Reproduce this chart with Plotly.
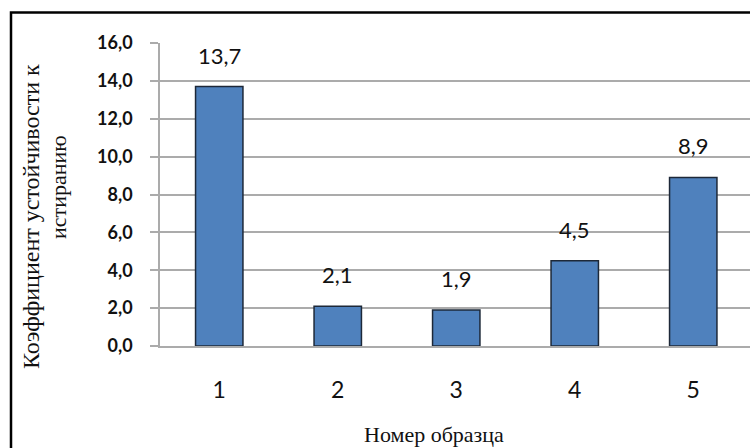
import plotly.graph_objects as go

# Abrasion-resistance coefficient per sample
samples = ["1", "2", "3", "4", "5"]
coefficients = [13.7, 2.1, 1.9, 4.5, 8.9]
y_ticks = [0, 2, 4, 6, 8, 10, 12, 14, 16]

W, H = 750, 448
L, R, T, B = 160, 0, 43, 102
plot_w = W - L - R
plot_h = H - T - B

BAR_COLOR = "#4F81BD"
GRID = "#ababab"
SANS = "Lato"
SERIF = "Liberation Serif"


def fmt(v):
    return f"{v:.1f}".replace(".", ",")


fig = go.Figure()
fig.add_trace(go.Bar(
    x=samples,
    y=coefficients,
    width=0.4,
    marker=dict(color=BAR_COLOR, line=dict(color="#1d2838", width=1.5)),
    hoverinfo="skip",
))

# value labels above each bar (category index as x position)
for i, v in enumerate(coefficients):
    fig.add_annotation(
        x=i, y=v, text=fmt(v), showarrow=False,
        xanchor="center", yanchor="bottom", yshift=16,
        font=dict(family=SANS, size=22, color="#111111"),
    )

# y-axis title, two lines
fig.add_annotation(
    xref="paper", yref="paper",
    x=(31 - L) / plot_w, y=(T + plot_h - 217) / plot_h,
    xanchor="center", yanchor="middle",
    text="Коэффициент устойчивости к", textangle=-90, showarrow=False,
    font=dict(family=SERIF, size=24, color="#111111"),
)
fig.add_annotation(
    xref="paper", yref="paper",
    x=(58 - L) / plot_w, y=(T + plot_h - 187) / plot_h,
    xanchor="center", yanchor="middle",
    text="истиранию", textangle=-90, showarrow=False,
    font=dict(family=SERIF, size=22, color="#111111"),
)

# x-axis title
fig.add_annotation(
    xref="paper", yref="paper",
    x=(434 - L) / plot_w, y=(T + plot_h - 434) / plot_h,
    xanchor="center", yanchor="middle",
    text="Номер образца", showarrow=False,
    font=dict(family=SERIF, size=22, color="#111111"),
)

# outer chart frame
fig.add_shape(
    type="rect", xref="paper", yref="paper",
    x0=(11 - L) / plot_w, x1=1.05,
    y0=-0.5, y1=(T + plot_h - 12.5) / plot_h,
    line=dict(color="black", width=2.5), fillcolor="rgba(0,0,0,0)",
    layer="above",
)

fig.update_layout(
    width=W, height=H,
    margin=dict(l=L, r=R, t=T, b=B, pad=0),
    paper_bgcolor="white", plot_bgcolor="white",
    showlegend=False,
    separators=", ",
    xaxis=dict(
        type="category", range=[-0.5, -0.5 + plot_w / 118.5],
        showgrid=False, showline=True, linecolor=GRID, linewidth=1.5,
        ticks="", ticklabelstandoff=23,
        tickfont=dict(family=SANS, size=23, color="#111111"),
    ),
    yaxis=dict(
        range=[0, 16], tickvals=y_ticks, tickformat=".1f",
        showgrid=True, gridcolor=GRID, gridwidth=1.5,
        showline=True, linecolor=GRID, linewidth=1.5,
        ticks="outside", ticklen=8, tickcolor=GRID, tickwidth=1.5,
        ticklabelstandoff=14, zeroline=False,
        tickfont=dict(family=SANS, size=18, color="#111111", weight="bold"),
    ),
)

fig.write_html("out.html")
